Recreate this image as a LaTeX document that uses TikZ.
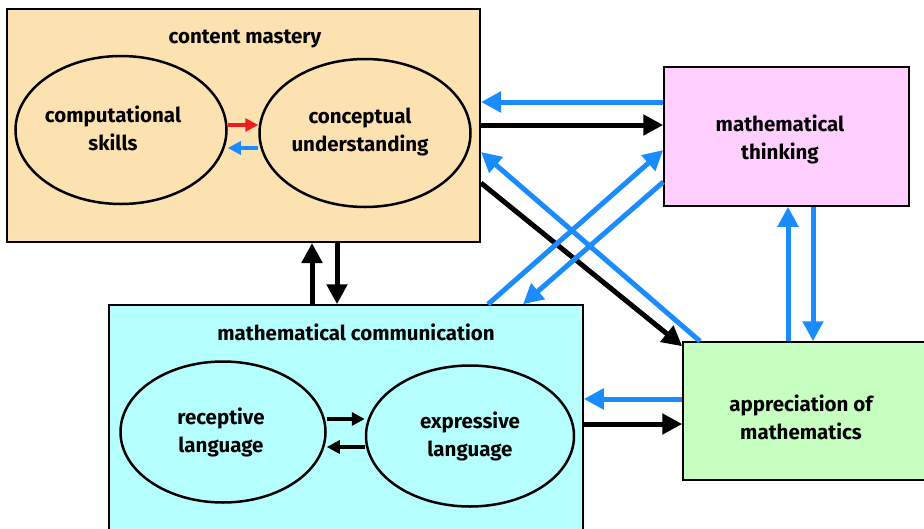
\documentclass[tikz,border=0pt]{standalone}
\usepackage{fontspec}
\setmainfont{Fira Sans}[BoldFont={Fira Sans Bold}]
\usetikzlibrary{arrows.meta,shapes.geometric}
\definecolor{cmfill}{HTML}{FCE1B1}
\definecolor{mtfill}{HTML}{FFD0FF}
\definecolor{mcfill}{HTML}{B5FFFF}
\definecolor{apfill}{HTML}{C6FFC0}
\definecolor{arblue}{HTML}{1A8CFF}
\definecolor{arred}{HTML}{EE1C1C}
\tikzset{
  box/.style={draw=black, line width=2pt, rectangle, inner sep=0pt},
  oval/.style={draw=black, line width=2.5pt, ellipse, inner sep=0pt},
  lbl/.style={font=\fontsize{20.5}{28}\selectfont\bfseries, align=center, inner sep=0pt},
  bigarrow/.style={line width=5pt, -{Triangle[length=20pt,width=20pt]}},
  smallarrow/.style={line width=3.5pt, -{Triangle[length=13pt,width=13pt]}},
}
\begin{document}
\begin{tikzpicture}[x=1pt,y=-1pt]
\useasboundingbox (0,0) rectangle (924,528);
\clip (0,0) rectangle (924,528);
\fill[white] (0,0) rectangle (924,528);

% boxes
\node[box, fill=cmfill, minimum width=473pt, minimum height=233pt] (cm) at (243.5,125.5) {};
\node[box, fill=mtfill, line width=1.5pt, minimum width=245pt, minimum height=139pt] (mt) at (786.5,136.5) {};
\node[box, fill=mcfill, line width=1.5pt, minimum width=474pt, minimum height=245pt] (mc) at (346,427.5) {};
\node[box, fill=apfill, line width=1.5pt, minimum width=262pt, minimum height=138pt] (ap) at (814,411) {};

% titles
\node[lbl] (cmt) at (245,39) {content mastery};
\node[lbl] (mtt) at (780,139) {mathematical\\thinking};
\node[lbl] (mct) at (356,332) {mathematical communication};
\node[lbl] (apt) at (801,417) {appreciation of\\mathematics};

% ellipses
\node[oval, fill=cmfill, minimum width=211pt, minimum height=148pt] (cs) at (121,130) {};
\node[lbl] (cst) at (113,128) {computational\\skills};
\node[oval, fill=cmfill, minimum width=211pt, minimum height=148pt] (cu) at (365,133) {};
\node[lbl] (cut) at (360,132) {conceptual\\understanding};
\node[oval, fill=mcfill, minimum width=205pt, minimum height=141pt] (rl) at (223,432) {};
\node[lbl] (rlt) at (221,432) {receptive\\language};
\node[oval, fill=mcfill, minimum width=208pt, minimum height=141pt] (el) at (470,436) {};
\node[lbl] (elt) at (470,436) {expressive\\language};

% inner arrows
\draw[smallarrow, arred] (cs.east |- 0,125) -- (cu.west |- 0,125);
\draw[smallarrow, arblue] (cu.west |- 0,148) -- (cs.east |- 0,148);
\draw[smallarrow, black] (rl.east |- 0,419) -- (el.west |- 0,419);
\draw[smallarrow, black] (el.west |- 0,447) -- (rl.east |- 0,447);

% outer arrows
\draw[bigarrow, arblue] (mt.west |- 0,102) -- (cm.east |- 0,102);
\draw[bigarrow, black] (cm.east |- 0,125) -- (mt.west |- 0,125);
\draw[bigarrow, arblue] (700,0 |- ap.north) -- (cm.east |- 0,152);
\draw[bigarrow, black] (cm.east |- 0,183) -- ([yshift=-5pt]ap.north west);
\draw[bigarrow, arblue] (488,0 |- mc.north) -- (mt.west |- 0,150);
\draw[bigarrow, arblue] (mt.west |- 0,182) -- (523,0 |- mc.north);
\draw[bigarrow, arblue] (788,0 |- ap.north) -- (788,0 |- mt.south);
\draw[bigarrow, arblue] (813,0 |- mt.south) -- (813,0 |- ap.north);
\draw[bigarrow, black] (312,0 |- mc.north) -- (312,0 |- cm.south);
\draw[bigarrow, black] (337,0 |- cm.south) -- (337,0 |- mc.north);
\draw[bigarrow, arblue] (ap.west |- 0,399) -- (mc.east |- 0,399);
\draw[bigarrow, black] (mc.east |- 0,424) -- (ap.west |- 0,424);
\end{tikzpicture}
\end{document}
